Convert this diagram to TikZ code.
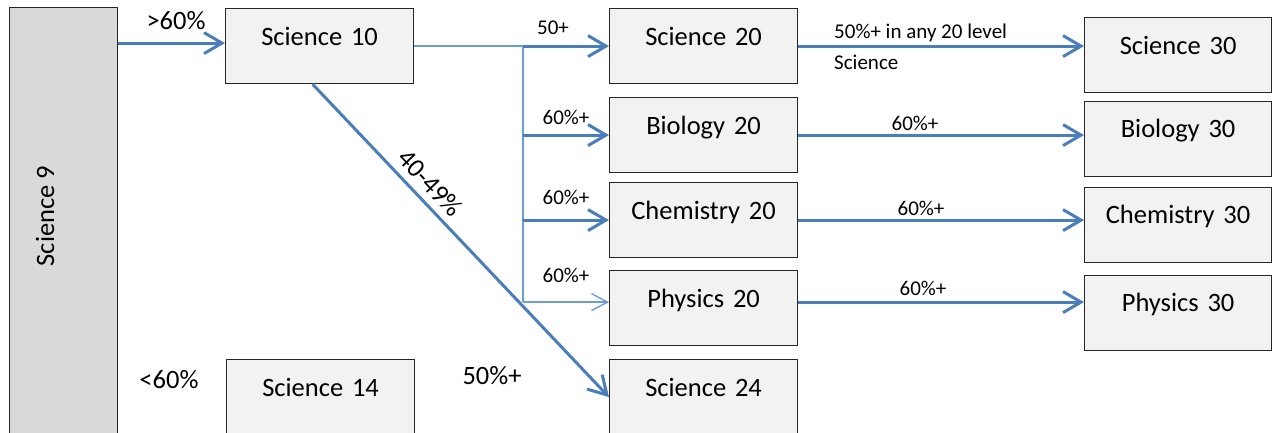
\documentclass[tikz,border=0pt]{standalone}
\usepackage{fontspec}
\setmainfont{Carlito}
\usetikzlibrary{arrows.meta}
\definecolor{boxfill}{HTML}{F2F2F2}
\definecolor{ninefill}{HTML}{D9D9D9}
\definecolor{arrblue}{HTML}{4A7EBB}
\definecolor{thinblue}{HTML}{6A9ED9}
\newcommand{\bigfnt}{\fontsize{26.5pt}{30pt}\selectfont}
\newcommand{\smallfnt}{\fontsize{21pt}{25pt}\selectfont}
\tikzset{
  coursebox/.style={draw=black!85, line width=1.2pt, fill=boxfill, anchor=north west,
    inner xsep=0pt, inner ysep=0pt, text width=188pt, align=center,
    text height=36.5pt, text depth=38.5pt, font=\bigfnt},
  bigtext/.style={font=\bigfnt, inner sep=0pt},
  smalltext/.style={font=\smallfnt, inner sep=0pt},
  thickarr/.style={draw=arrblue, line width=3pt, -{Straight Barb[length=18pt,width=21pt]}},
  thinline/.style={draw=thinblue, line width=1.4pt},
  thinarr/.style={draw=thinblue, line width=1.4pt, -{Straight Barb[length=16pt,width=17pt]}}
}
\begin{document}
\begin{tikzpicture}[x=1pt,y=-1pt]
\useasboundingbox (0,0) rectangle (1272,433);
% Science 9
\node[draw=black!85, line width=1.2pt, fill=ninefill, anchor=north west, inner sep=0pt,
  minimum width=108pt, minimum height=440pt] (s9) at (9,7) {};
\node[bigtext, rotate=90] (s9t) at (45,216) {Science 9};
% boxes
\node[coursebox] (s10) at (225,8) {Science 10};
\node[coursebox] (s14) at (226,359) {Science 14};
\node[coursebox] (s20) at (609,8) {Science 20};
\node[coursebox] (b20) at (609,97) {Biology 20};
\node[coursebox] (c20) at (609,182) {Chemistry 20};
\node[coursebox] (p20) at (609,270) {Physics 20};
\node[coursebox] (s24) at (609,359) {Science 24};
\node[coursebox, text width=187pt] (s30) at (1084,17) {Science 30};
\node[coursebox, text width=187pt, text height=35.5pt, text depth=39.5pt] (b30) at (1084,101) {Biology 30};
\node[coursebox, text width=187pt, text height=35.5pt, text depth=39.5pt] (c30) at (1084,187) {Chemistry 30};
\node[coursebox, text width=187pt, text height=35.5pt, text depth=39.5pt] (p30) at (1084,275) {Physics 30};
% connectors
\coordinate (a10) at ([yshift=3pt]s10.west);
\draw[thickarr] (s9.east |- a10) -- (a10);
\coordinate (jtop) at (523,0 |- s10.east);
\coordinate (jbot) at ([yshift=6pt]p20.west -| jtop);
\draw[thinline] (s10.east) -- (jtop) -- (jbot);
\draw[thickarr] (jtop) -- (jtop -| s20.west);
\draw[thickarr] (b20.west -| jtop) -- (b20.west);
\draw[thickarr] (c20.west -| jtop) -- (c20.west);
\draw[thinarr] (jbot) -- (jbot -| p20.west);
\draw[thickarr] (s20.east) -- (s20.east -| s30.west);
\draw[thickarr] (b20.east) -- (b20.east -| b30.west);
\draw[thickarr] (c20.east) -- (c20.east -| c30.west);
\draw[thickarr] ([yshift=6pt]p20.east) -- ([yshift=6pt]p20.east -| p30.west);
\draw[thickarr] ([xshift=-7pt]s10.south) -- (s24.west)
  node[bigtext, sloped, pos=0.355, above=7pt] (l4049) {40-49\%};
% labels
\node[bigtext] (lgt60) at (176,21) {>60\%};
\node[bigtext] (llt60) at (169,380) {<60\%};
\node[bigtext] (l50p) at (492,376) {50\%+};
\node[smalltext] (l50) at (553,28) {50+};
\node[smalltext] (lb) at (566,117) {60\%+};
\node[smalltext] (lc) at (566,197) {60\%+};
\node[smalltext] (lp) at (566,275) {60\%+};
\node[smalltext, anchor=west] (ls1) at (834,33) {50\%+ in any 20 level};
\node[smalltext, anchor=west] (ls2) at (834,62) {Science};
\node[smalltext] (lb3) at (915,123) {60\%+};
\node[smalltext] (lc3) at (921,208) {60\%+};
\node[smalltext] (lp3) at (923,288) {60\%+};
\end{tikzpicture}
\end{document}
